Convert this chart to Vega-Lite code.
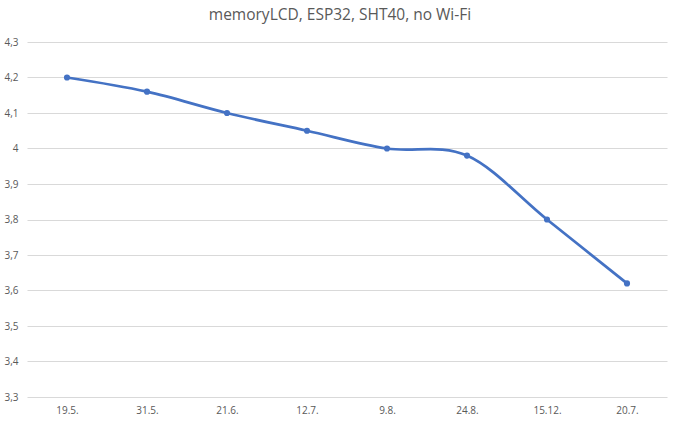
{
  "$schema": "https://vega.github.io/schema/vega-lite/v6.json",
  "width": 640,
  "height": 355,
  "autosize": "none",
  "padding": {"left": 27, "top": 42, "right": 13, "bottom": 28},
  "background": "white",
  "title": {
    "text": "memoryLCD, ESP32, SHT40, no Wi-Fi",
    "font": "Open Sans",
    "fontSize": 15.5,
    "fontWeight": "normal",
    "color": "#595959",
    "offset": 14,
    "dx": -7
  },
  "data": {
    "values": [
      {"date": "19.5.", "voltage": 4.2},
      {"date": "31.5.", "voltage": 4.16},
      {"date": "21.6.", "voltage": 4.1},
      {"date": "12.7.", "voltage": 4.05},
      {"date": "9.8.", "voltage": 4.0},
      {"date": "24.8.", "voltage": 3.98},
      {"date": "15.12.", "voltage": 3.8},
      {"date": "20.7.", "voltage": 3.62}
    ]
  },
  "encoding": {
    "x": {
      "field": "date",
      "type": "ordinal",
      "sort": null,
      "title": null,
      "scale": {"type": "point", "padding": 0.5},
      "axis": {
        "labelAngle": 0,
        "domain": false,
        "ticks": false,
        "grid": false,
        "labelPadding": 8,
        "labelFont": "Open Sans",
        "labelFontSize": 10,
        "labelColor": "#595959"
      }
    },
    "y": {
      "field": "voltage",
      "type": "quantitative",
      "title": null,
      "scale": {"domain": [3.3, 4.3], "nice": false, "zero": false},
      "axis": {
        "values": [3.3, 3.4, 3.5, 3.6, 3.7, 3.8, 3.9, 4.0, 4.1, 4.2, 4.3],
        "labelExpr": "replace(format(datum.value, '~g'), '.', ',')",
        "domain": false,
        "ticks": false,
        "labelPadding": 9,
        "labelFont": "Open Sans",
        "labelFontSize": 10,
        "labelColor": "#595959",
        "gridColor": "#d9d9d9",
        "gridWidth": 1
      }
    }
  },
  "layer": [
    {
      "mark": {
        "type": "line",
        "interpolate": "cardinal",
        "color": "#4472C4",
        "strokeWidth": 2.75
      }
    },
    {
      "mark": {
        "type": "circle",
        "color": "#4472C4",
        "size": 38,
        "opacity": 1
      }
    }
  ],
  "config": {
    "view": {"stroke": null}
  }
}
